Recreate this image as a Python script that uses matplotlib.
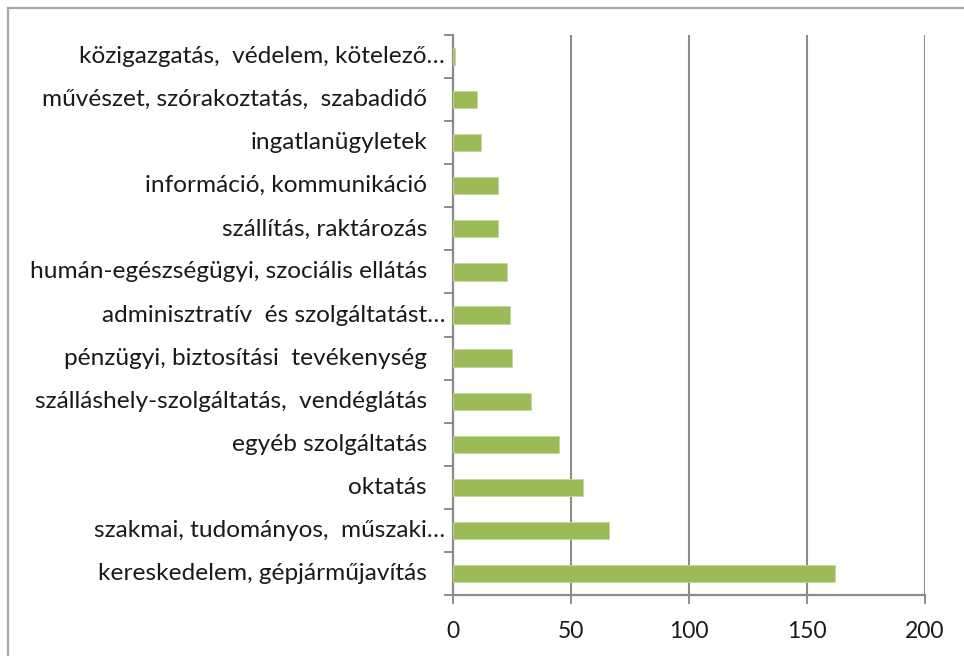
import matplotlib
matplotlib.use("Agg")
import matplotlib.pyplot as plt
import matplotlib.transforms as mtransforms
import numpy as np

plt.rcParams['font.family'] = ['Lato', 'DejaVu Sans']

categories = [
    "közigazgatás,  védelem, kötelező…",
    "művészet, szórakoztatás,  szabadidő",
    "ingatlanügyletek",
    "információ, kommunikáció",
    "szállítás, raktározás",
    "humán-egészségügyi, szociális ellátás",
    "adminisztratív  és szolgáltatást…",
    "pénzügyi, biztosítási  tevékenység",
    "szálláshely-szolgáltatás,  vendéglátás",
    "egyéb szolgáltatás",
    "oktatás",
    "szakmai, tudományos,  műszaki…",
    "kereskedelem, gépjárműjavítás",
]
values = [1, 10, 12, 19, 19, 23, 24, 25, 33, 45, 55, 66, 162]
xticks = [0, 50, 100, 150, 200]

FS_LAB = 17.6
FS_TICK = 16.5
W, H = 964, 656
fig = plt.figure(figsize=(W / 100, H / 100), dpi=100)
fig.patch.set_facecolor("white")

# outer chart border (extends beyond right/bottom edges)
border = plt.Rectangle((8 / W, -0.05), 1.1, 1 - 8 / H + 0.05, transform=fig.transFigure,
                       fill=False, edgecolor="#a6a6a6", linewidth=1.6, clip_on=False)
fig.add_artist(border)

ax = fig.add_axes([453 / W, 1 - 595 / H, (925 - 453) / W, (595 - 35) / H])
n = len(categories)
ypos = np.arange(n)[::-1]  # first category at top
ax.barh(ypos, values, height=0.4, color="#9bbb59", edgecolor="#c3d69b", linewidth=0.6, zorder=3)

ax.set_xlim(0, 200)
ax.set_ylim(-0.5, n - 0.5)
ax.set_xticks(xticks)
ax.set_xticklabels([str(v) for v in xticks], fontsize=FS_TICK, color="#1a1a1a")
ax.tick_params(axis="x", direction="out", length=6.5, width=1.4, color="#8c8c8c", pad=12)
ax.grid(axis="x", color="#8c8c8c", linewidth=1.5, zorder=1)

# y axis: boundary ticks (minor), no major ticks
ax.set_yticks([])
ax.set_yticks(np.arange(-0.5, n, 1.0), minor=True)
ax.tick_params(axis="y", which="minor", direction="out", length=6.5, width=1.4, color="#8c8c8c")
ax.yaxis.set_minor_formatter(matplotlib.ticker.NullFormatter())

for s in ["top", "right"]:
    ax.spines[s].set_visible(False)
for s in ["left", "bottom"]:
    ax.spines[s].set_color("#8c8c8c")
    ax.spines[s].set_linewidth(1.6)

trans = mtransforms.blended_transform_factory(ax.transAxes, ax.transData)
for lab, y in zip(categories, ypos):
    off = -8 if lab.endswith("…") else -26
    t = trans + mtransforms.ScaledTranslation(off / 100, 0, fig.dpi_scale_trans)
    ax.text(0, y, lab, transform=t, ha="right", va="center", fontsize=FS_LAB, color="#1a1a1a")

fig.savefig("out.png", dpi=100, facecolor="white")
